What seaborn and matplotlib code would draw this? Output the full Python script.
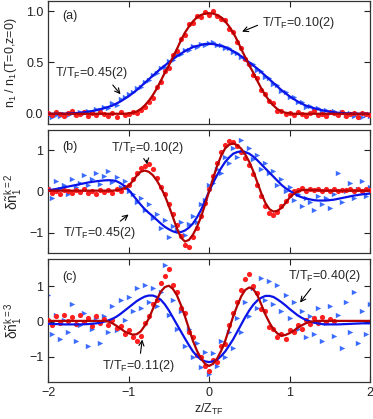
import matplotlib
matplotlib.use("Agg")
import matplotlib.pyplot as plt
import numpy as np
import pandas as pd
import seaborn as sns

# z grids (in units of Z_TF)
Z_FIT = np.round(np.linspace(-2.0, 2.0, 81), 2)
Z_PTS = np.round(np.linspace(-2.0, 2.0, 81), 2)

# ---- panel (a): normalised density profiles ----
RED_A_FIT = [
    0, 0, 0, 0, 0, 0, 0, 0, 0, 0,
    0, 0, 0, 0, 0, 0, 0, 0, 0, 0,
    0.004, 0.01, 0.022, 0.045, 0.08, 0.125, 0.18, 0.245, 0.32, 0.40,
    0.47, 0.55, 0.63, 0.715, 0.79, 0.85, 0.90, 0.94, 0.962, 0.976,
    0.98,
    0.976, 0.962, 0.94, 0.90, 0.85, 0.79, 0.715, 0.63, 0.55, 0.47,
    0.40, 0.32, 0.245, 0.18, 0.125, 0.08, 0.045, 0.022, 0.01, 0.004,
    0, 0, 0, 0, 0, 0, 0, 0, 0, 0,
    0, 0, 0, 0, 0, 0, 0, 0, 0, 0,
]
BLUE_A_FIT = [
    0, 0, 0, 0, 0, 0.003, 0.005, 0.007, 0.01, 0.015,
    0.02, 0.027, 0.035, 0.045, 0.055, 0.067, 0.08, 0.10, 0.12, 0.145,
    0.17, 0.20, 0.23, 0.265, 0.30, 0.335, 0.37, 0.405, 0.44, 0.47,
    0.50, 0.53, 0.56, 0.585, 0.61, 0.63, 0.65, 0.66, 0.67, 0.68,
    0.68,
    0.68, 0.67, 0.66, 0.65, 0.63, 0.61, 0.585, 0.56, 0.53, 0.50,
    0.47, 0.44, 0.405, 0.37, 0.335, 0.30, 0.265, 0.23, 0.20, 0.17,
    0.145, 0.12, 0.10, 0.08, 0.067, 0.055, 0.045, 0.035, 0.027, 0.02,
    0.015, 0.01, 0.007, 0.005, 0.003, 0, 0, 0, 0, 0,
]
RED_A_PTS = [
    0.01, -0.01, 0.02, 0.00, -0.02, 0.01, 0.03, -0.01, 0.00, 0.02,
    -0.02, 0.01, -0.01, 0.02, 0.00, -0.02, 0.01, -0.03, 0.02, -0.01,
    0.00, 0.02, 0.01, 0.04, 0.07, 0.11, 0.15, 0.26, 0.31, 0.42,
    0.45, 0.57, 0.61, 0.73, 0.77, 0.87, 0.88, 0.95, 0.94, 0.99,
    0.96,
    1.00, 0.95, 0.92, 0.91, 0.83, 0.80, 0.70, 0.64, 0.53, 0.48,
    0.38, 0.35, 0.23, 0.19, 0.12, 0.10, 0.03, 0.03, 0.00, 0.01,
    -0.01, 0.02, 0.00, -0.02, 0.01, 0.03, -0.01, 0.00, -0.02, 0.02,
    0.01, -0.01, 0.02, -0.02, 0.00, 0.01, -0.03, 0.01, 0.00, -0.01,
]
BLUE_A_PTS = [
    -0.02, -0.03, -0.01, -0.02, 0.00, -0.01, 0.01, 0.00, 0.02, 0.01,
    0.03, 0.02, 0.05, 0.04, 0.07, 0.06, 0.10, 0.09, 0.14, 0.16,
    0.19, 0.21, 0.25, 0.26, 0.31, 0.33, 0.38, 0.40, 0.45, 0.46,
    0.51, 0.52, 0.57, 0.58, 0.62, 0.62, 0.66, 0.65, 0.68, 0.67,
    0.69,
    0.70, 0.67, 0.67, 0.64, 0.64, 0.60, 0.59, 0.55, 0.54, 0.49,
    0.48, 0.43, 0.42, 0.36, 0.35, 0.29, 0.28, 0.22, 0.21, 0.16,
    0.16, 0.11, 0.11, 0.07, 0.08, 0.04, 0.06, 0.02, 0.04, 0.01,
    0.03, 0.00, 0.02, -0.01, 0.01, -0.02, 0.00, -0.03, -0.01, -0.02,
]

# ---- panel (b): k=2 residual ----
RED_B_FIT = [
    0.02, 0.02, 0.02, 0.02, 0.02, 0.02, 0.02, 0.02, 0.02, 0.02,
    0.02, 0.02, 0.02, 0.02, 0.02, 0.02, 0.02, 0.03, 0.05, 0.08,
    0.14, 0.25, 0.38, 0.48, 0.51, 0.48, 0.40, 0.27, 0.10, -0.10,
    -0.35, -0.62, -0.90, -1.12, -1.22, -1.18, -1.05, -0.86, -0.62, -0.32,
    0.0,
    0.32, 0.62, 0.87, 1.05, 1.14, 1.17, 1.13, 1.04, 0.90, 0.72,
    0.49, 0.22, -0.05, -0.28, -0.43, -0.49, -0.47, -0.40, -0.28, -0.15,
    -0.06, 0.00, 0.03, 0.04, 0.04, 0.03, 0.03, 0.02, 0.02, 0.02,
    0.02, 0.02, 0.02, 0.02, 0.02, 0.02, 0.02, 0.02, 0.02, 0.02,
]
BLUE_B_FIT = [
    0.03, 0.045, 0.06, 0.08, 0.10, 0.12, 0.14, 0.16, 0.18, 0.20,
    0.22, 0.235, 0.25, 0.26, 0.27, 0.275, 0.27, 0.25, 0.20, 0.13,
    0.04, -0.08, -0.20, -0.32, -0.43, -0.52, -0.60, -0.69, -0.78, -0.86,
    -0.92, -0.97, -1.00, -0.99, -0.95, -0.88, -0.78, -0.63, -0.45, -0.23,
    0.0,
    0.21, 0.40, 0.57, 0.72, 0.83, 0.92, 0.96, 0.98, 0.96, 0.92,
    0.85, 0.76, 0.66, 0.56, 0.46, 0.36, 0.26, 0.16, 0.08, 0.02,
    -0.04, -0.10, -0.14, -0.17, -0.19, -0.21, -0.22, -0.22, -0.22, -0.21,
    -0.20, -0.18, -0.16, -0.14, -0.12, -0.10, -0.085, -0.07, -0.06, -0.05,
]
RED_B_PTS = [
    0.05, -0.03, 0.02, -0.05, 0.04, 0.00, -0.04, 0.03, -0.02, 0.05,
    -0.03, 0.01, -0.06, 0.04, -0.02, 0.03, -0.04, 0.06, 0.02, 0.10,
    0.16, 0.30, 0.45, 0.58, 0.62, 0.68, 0.55, 0.34, 0.12, -0.05,
    -0.30, -0.55, -0.82, -1.08, -1.30, -1.35, -1.12, -0.90, -0.60, -0.28,
    0.05,
    0.38, 0.70, 0.95, 1.12, 1.22, 1.20, 1.10, 0.95, 0.82, 0.65,
    0.42, 0.16, -0.10, -0.35, -0.52, -0.58, -0.50, -0.36, -0.22, -0.08,
    0.00, 0.04, 0.08, 0.02, 0.06, 0.03, 0.07, 0.01, 0.05, 0.02,
    0.06, 0.00, 0.04, 0.03, 0.07, 0.01, 0.05, 0.02, 0.06, 0.03,
]
BLUE_B_PTS = [
    0.10, -0.15, 0.25, 0.05, 0.15, -0.05, 0.30, 0.10, 0.20, 0.40,
    0.15, 0.30, 0.45, 0.18, 0.38, 0.50, 0.22, 0.35, 0.12, 0.25,
    0.02, -0.05, -0.25, -0.15, -0.45, -0.30, -0.65, -0.55, -0.90, -0.70,
    -1.10, -0.85, -0.95, -0.75, -1.05, -0.80, -0.60, -0.75, -0.30, -0.20,
    0.15,
    0.20, 0.55, 0.45, 0.85, 0.70, 1.05, 0.85, 1.25, 0.95, 1.05,
    0.80, 0.90, 0.55, 0.70, 0.45, 0.50, 0.15, 0.30, 0.00, 0.12,
    -0.20, -0.05, -0.35, -0.15, -0.25, -0.45, -0.10, -0.30, -0.15, -0.40,
    -0.05, 0.45, -0.25, 0.00, 0.20, -0.15, 0.05, 0.25, -0.10, 0.10,
]

# ---- panel (c): k=3 residual ----
RED_C_FIT = [
    0.02, 0.02, 0.02, 0.02, 0.02, 0.02, 0.02, 0.02, 0.02, 0.02,
    0.02, 0.02, 0.02, 0.02, 0.02, 0.0, -0.05, -0.12, -0.20, -0.28,
    -0.33, -0.37, -0.36, -0.28, -0.12, 0.08, 0.35, 0.62, 0.85, 0.98,
    1.02, 0.93, 0.75, 0.47, 0.15, -0.20, -0.55, -0.83, -1.05, -1.20,
    -1.26,
    -1.20, -1.05, -0.83, -0.55, -0.20, 0.15, 0.45, 0.72, 0.90, 0.97,
    0.92, 0.75, 0.48, 0.20, -0.03, -0.22, -0.34, -0.40, -0.38, -0.33,
    -0.26, -0.18, -0.11, -0.05, -0.01, 0.01, 0.02, 0.02, 0.02, 0.02,
    0.02, 0.02, 0.02, 0.02, 0.02, 0.02, 0.02, 0.02, 0.02, 0.02,
]
BLUE_C_FIT = [
    -0.06, -0.065, -0.07, -0.075, -0.08, -0.08, -0.08, -0.08, -0.08, -0.075,
    -0.07, -0.06, -0.05, -0.03, 0.0, 0.035, 0.08, 0.14, 0.22, 0.31,
    0.40, 0.49, 0.58, 0.65, 0.71, 0.74, 0.74, 0.70, 0.62, 0.49,
    0.32, 0.12, -0.08, -0.28, -0.48, -0.67, -0.85, -0.98, -1.08, -1.13,
    -1.15,
    -1.13, -1.08, -0.98, -0.85, -0.68, -0.50, -0.29, -0.08, 0.13, 0.32,
    0.48, 0.60, 0.68, 0.73, 0.73, 0.70, 0.63, 0.55, 0.46, 0.36,
    0.27, 0.18, 0.11, 0.05, 0.01, -0.03, -0.05, -0.07, -0.08, -0.08,
    -0.08, -0.08, -0.075, -0.07, -0.065, -0.06, -0.055, -0.05, -0.05, -0.05,
]
RED_C_PTS = [
    0.05, -0.10, 0.15, -0.05, 0.20, 0.02, 0.12, -0.08, 0.18, 0.00,
    0.10, -0.12, 0.15, -0.05, 0.08, -0.10, 0.05, -0.18, -0.12, -0.35,
    -0.25, -0.45, -0.55, -0.40, -0.05, 0.15, 0.50, 0.60, 1.10, 1.30,
    1.50, 1.05, 0.85, 0.40, 0.25, -0.30, -0.45, -0.95, -1.00, -1.25,
    -1.40,
    -1.10, -1.15, -0.70, -0.65, -0.10, 0.25, 0.55, 0.90, 1.20, 1.35,
    1.00, 0.80, 0.35, 0.30, -0.15, -0.20, -0.45, -0.35, -0.50, -0.25,
    -0.30, -0.10, -0.20, 0.05, -0.08, 0.10, -0.05, 0.12, 0.00, 0.08, 0.02,
]
BLUE_C_PTS = [
    0.75, -0.35, 0.20, -0.50, 0.05, -0.30, 0.50, -0.55, -0.10, 0.25,
    -0.70, -0.20, 0.10, -0.60, 0.15, -0.30, 0.45, -0.25, 0.60, 0.05,
    0.70, 0.30, 0.95, 0.40, 1.05, 0.55, 0.95, 0.45, 0.85, 1.60,
    0.20, 0.60, -0.20, 0.30, -0.70, -0.20, -1.00, -0.60, -1.30, -0.85,
    -1.50,
    -0.90, -1.25, -0.55, -1.00, -0.30, -0.75, 0.10, -0.30, 0.55, 0.15,
    0.95, 0.40, 1.25, 0.60, 1.15, 0.50, 1.05, 0.30, 0.75, 0.10,
    0.55, -0.20, 0.30, -0.45, 0.15, -0.35, 0.40, -0.55, -0.05, 0.45,
    -0.40, 0.20, -0.75, 0.55, -0.30, 0.85, -0.60, 0.30, -0.35, 0.50,
]

RED_PT, RED_LN = "#ff1f1f", "#b30000"
BLUE_PT, BLUE_LN = "#3b6cff", "#0a14e6"

sns.set_style("ticks")
plt.rcParams["font.family"] = ["Liberation Sans", "DejaVu Sans"]
plt.rcParams["mathtext.fontset"] = "custom"
plt.rcParams["mathtext.rm"] = "Liberation Sans"
plt.rcParams["mathtext.it"] = "Liberation Sans:italic"
plt.rcParams["mathtext.default"] = "regular"


def draw_panel(ax, red_pts, blue_pts, red_fit, blue_fit):
    sns.scatterplot(x=Z_PTS[:len(blue_pts)], y=blue_pts, ax=ax, marker=">",
                    s=15, color=BLUE_PT, linewidth=0, zorder=2)
    sns.scatterplot(x=Z_PTS[:len(red_pts)], y=red_pts, ax=ax, marker="o",
                    s=14, color=RED_PT, linewidth=0, zorder=3)
    sns.lineplot(x=Z_FIT, y=blue_fit, ax=ax, color=BLUE_LN, lw=1.6,
                 estimator=None, sort=False, zorder=4)
    sns.lineplot(x=Z_FIT, y=red_fit, ax=ax, color=RED_LN, lw=1.6,
                 estimator=None, sort=False, zorder=5)
    ax.set_xlim(-2, 2)
    ax.set_xticks([-2, -1, 0, 1, 2])
    ax.tick_params(direction="in", top=True, right=True, length=4,
                   width=0.8, labelsize=9, colors="#222222")
    for sp in ax.spines.values():
        sp.set_linewidth(0.9)
        sp.set_color("#333333")


fig = plt.figure(figsize=(3.73, 4.19), dpi=100)
ax_a = fig.add_axes([0.129, 0.704, 0.863, 0.294])
ax_b = fig.add_axes([0.129, 0.396, 0.863, 0.294])
ax_c = fig.add_axes([0.129, 0.088, 0.863, 0.294])

draw_panel(ax_a, RED_A_PTS, BLUE_A_PTS, RED_A_FIT, BLUE_A_FIT)
draw_panel(ax_b, RED_B_PTS, BLUE_B_PTS, RED_B_FIT, BLUE_B_FIT)
draw_panel(ax_c, RED_C_PTS, BLUE_C_PTS, RED_C_FIT, BLUE_C_FIT)

ax_a.set_ylim(-0.1, 1.1)
ax_a.set_yticks([0, 0.5, 1.0])
ax_a.set_yticklabels(["0.0", "0.5", "1.0"])
ax_b.set_ylim(-1.5, 1.5)
ax_b.set_yticks([-1, 0, 1])
ax_c.set_ylim(-1.72, 1.78)
ax_c.set_yticks([-1, 0, 1])
for ax in (ax_a, ax_b):
    ax.tick_params(labelbottom=False)

ax_a.set_ylabel("n$_1$ / n$_1$(T=0,z=0)", fontsize=9)
ax_b.set_ylabel(r"$\delta\tilde{n}_1^{k=2}$", fontsize=10)
ax_c.set_ylabel(r"$\delta\tilde{n}_1^{k=3}$", fontsize=10)
ax_a.yaxis.set_label_coords(-0.09, 0.5)
ax_b.yaxis.set_label_coords(-0.075, 0.5)
ax_c.yaxis.set_label_coords(-0.075, 0.5)
ax_c.set_xlabel("z/Z$_{TF}$", fontsize=9, labelpad=2)

for ax, lab, yy in ((ax_a, "(a)", 0.88), (ax_b, "(b)", 0.86), (ax_c, "(c)", 0.85)):
    ax.text(0.045, yy, lab, transform=ax.transAxes, fontsize=9, va="center")

arrow = dict(arrowstyle="->", color="black", lw=0.8, shrinkA=1, shrinkB=0)
ax_a.annotate("T/T$_F$=0.10(2)", xy=(0.41, 0.80), xytext=(0.66, 0.88),
              fontsize=9, va="center", arrowprops=dict(arrow, relpos=(0, 0.5)))
ax_a.annotate("T/T$_F$=0.45(2)", xy=(-1.10, 0.19), xytext=(-1.91, 0.40),
              fontsize=9, va="center", arrowprops=dict(arrow, relpos=(0.74, 0)))
ax_b.annotate("T/T$_F$=0.10(2)", xy=(-0.77, 0.66), xytext=(-1.22, 1.07),
              fontsize=9, va="center", arrowprops=dict(arrow, relpos=(0.48, 0)))
ax_b.annotate("T/T$_F$=0.45(2)", xy=(-1.00, -0.56), xytext=(-1.81, -1.02),
              fontsize=9, va="center", arrowprops=dict(arrow, relpos=(0.71, 1)))
ax_c.annotate("T/T$_F$=0.11(2)", xy=(-0.83, -0.51), xytext=(-1.33, -1.26),
              fontsize=9, va="center", arrowprops=dict(arrow, relpos=(0.52, 1)))
ax_c.annotate("T/T$_F$=0.40(2)", xy=(1.13, 0.54), xytext=(0.98, 1.29),
              fontsize=9, va="center", arrowprops=dict(arrow, relpos=(0.36, 0)))

fig.savefig("out.png", dpi=100)
